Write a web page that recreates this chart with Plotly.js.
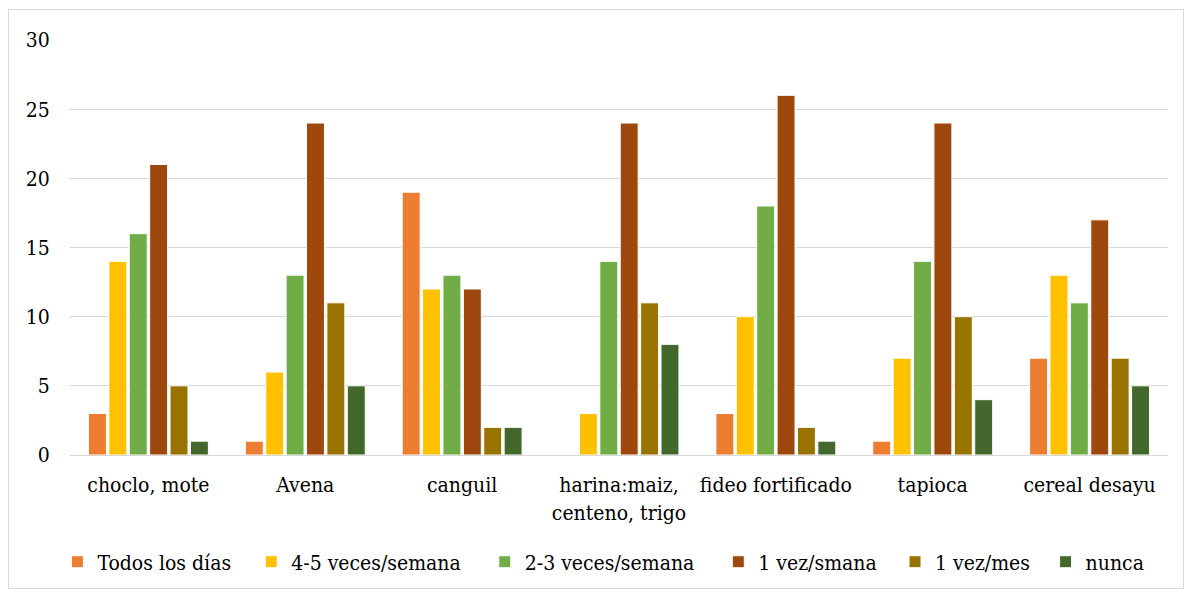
<!DOCTYPE html>
<html><head><meta charset="utf-8">
<script src="https://cdn.plot.ly/plotly-3.0.1.min.js"></script>
<style>html,body{margin:0;padding:0;background:#fff;}#frame{position:absolute;left:8px;top:9px;width:1176px;height:580px;border:1px solid #d9d9d9;box-sizing:border-box;pointer-events:none;}
#chart text{font-stretch:condensed !important;}</style>
</head><body>
<div id="chart" style="width:1189px;height:592px;"></div>
<div id="frame"></div>
<script>
const categories = ["choclo, mote","Avena","canguil","harina:maiz,<br>centeno, trigo","fideo fortificado","tapioca","cereal desayu"];
const seriesNames = ["Todos los días","4-5 veces/semana","2-3 veces/semana","1 vez/smana","1 vez/mes","nunca"];
const todosLosDias = [3,1,19,0,3,1,7];
const veces45 = [14,6,12,3,10,7,13];
const veces23 = [16,13,13,14,18,14,11];
const vezSemana = [21,24,12,24,26,24,17];
const vezMes = [5,11,2,11,2,10,7];
const nunca = [1,5,2,8,1,4,5];
const seriesValues = [todosLosDias, veces45, veces23, vezSemana, vezMes, nunca];
const colors = ["#ED7D31","#FFC000","#70AD47","#9E480E","#997300","#43682B"];
const font = "DejaVu Serif";
const fs = 21;
const traces = seriesNames.map((n,i)=>({
  type:'bar', name:n, x:categories, y:seriesValues[i],
  marker:{color:colors[i], line:{color:'#ffffff', width:1}}
}));
const layout = {
  width:1189, height:592,
  margin:{l:70, r:21, t:40, b:137, autoexpand:false},
  paper_bgcolor:'#fff', plot_bgcolor:'#fff',
  barmode:'group', bargap:0.22, bargroupgap:0.12,
  font:{family:font, size:fs, color:'#000'},
  xaxis:{type:'category', automargin:false, tickangle:0, showgrid:false, showline:false, zeroline:false,
    ticks:'outside', ticklen:11, tickcolor:'#ffffff', tickfont:{family:font,size:fs,color:'#000'}},
  yaxis:{range:[0,30], dtick:5, automargin:false, showgrid:true, gridcolor:'#d9d9d9', gridwidth:1,
    zeroline:true, zerolinecolor:'#d9d9d9', zerolinewidth:1, showline:false,
    ticks:'outside', ticklen:15, tickcolor:'#ffffff', tickfont:{family:font,size:fs,color:'#000'}},
  showlegend:true,
  legend:{orientation:'h', x:0.489, xanchor:'center', y:-0.258, yanchor:'middle',
    font:{family:font,size:fs,color:'#000'}, itemwidth:30, tracegroupgap:0, traceorder:'normal'}
};
Plotly.newPlot('chart', traces, layout, {displayModeBar:false, staticPlot:true});
</script>
</body></html>
